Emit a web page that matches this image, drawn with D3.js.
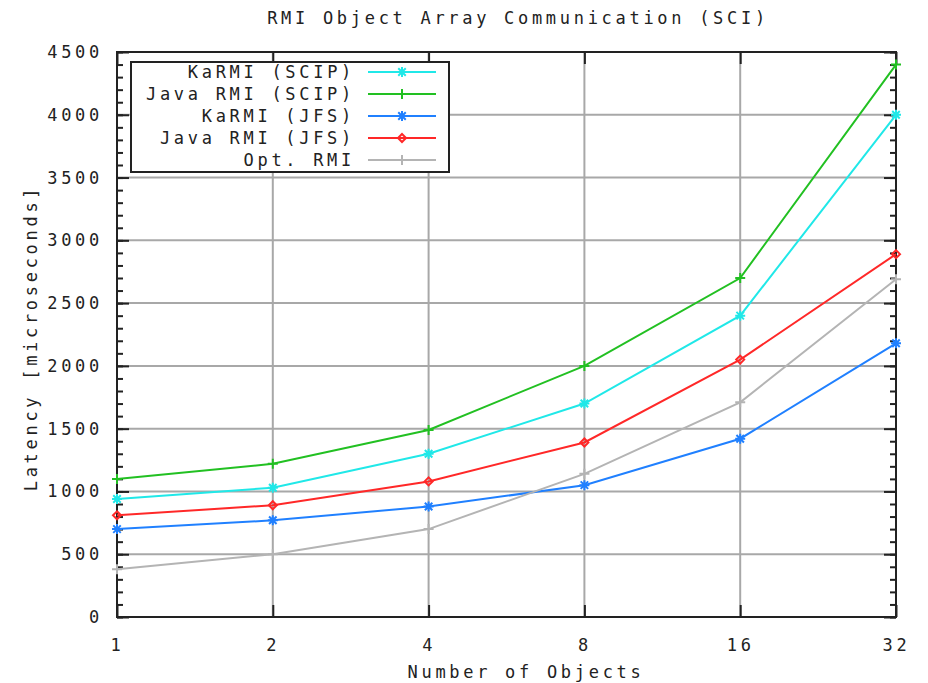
<!DOCTYPE html>
<html>
<head>
<meta charset="utf-8">
<script src="https://cdn.jsdelivr.net/npm/d3@7"></script>
<style>
  body { margin: 0; background: #fff; }
  text { font-family: "DejaVu Sans Mono", monospace; font-size: 17px; letter-spacing: 3.7px; fill: #222; }
</style>
</head>
<body>
<div id="chart"></div>
<script>

// data
const objects = [1, 2, 4, 8, 16, 32];
const karmiScip = [940, 1030, 1300, 1700, 2400, 4000];
const javaScip = [1100, 1220, 1490, 2000, 2700, 4400];
const karmiJfs = [700, 770, 880, 1050, 1420, 2180];
const javaJfs = [810, 890, 1080, 1390, 2050, 2890];
const optRmi = [380, 500, 700, 1140, 1710, 2690];
const yTicks = [0, 500, 1000, 1500, 2000, 2500, 3000, 3500, 4000, 4500];

const seriesList = [
    { name: "KaRMI (SCIP)", values: karmiScip, color: "#20e8e8", marker: "star" },
    { name: "Java RMI (SCIP)", values: javaScip, color: "#22c022", marker: "plus" },
    { name: "KaRMI (JFS)", values: karmiJfs, color: "#2080ff", marker: "star" },
    { name: "Java RMI (JFS)", values: javaJfs, color: "#ff2828", marker: "diamond" },
    { name: "Opt. RMI", values: optRmi, color: "#b4b4b4", marker: "plus" }
];

const width = 928, height = 683;
const margin = {top: 52, right: 32, bottom: 66, left: 117};
const w = width - margin.left - margin.right;
const h = height - margin.top - margin.bottom;

const svg = d3.select("#chart").append("svg")
    .attr("width", width)
    .attr("height", height);

const g = svg.append("g")
    .attr("transform", "translate(" + margin.left + "," + margin.top + ")");

const x_scale = d3.scaleLog().base(2).domain([1, 32]).range([0, w]);
const y_scale = d3.scaleLinear().domain([0, 4500]).range([h, 0]);

// grid
g.append("g").selectAll("line")
    .data(yTicks.slice(1, -1))
    .enter().append("line")
    .attr("x1", 0).attr("x2", w)
    .attr("y1", d => y_scale(d)).attr("y2", d => y_scale(d))
    .attr("stroke", "#a8a8a8").attr("stroke-width", 2);

g.append("g").selectAll("line")
    .data(objects.slice(1, -1))
    .enter().append("line")
    .attr("y1", 0).attr("y2", h)
    .attr("x1", d => x_scale(d)).attr("x2", d => x_scale(d))
    .attr("stroke", "#a8a8a8").attr("stroke-width", 2);

// axes (gnuplot style, ticks inward and mirrored)
const minor = d3.range(0, 4501, 100);
const axisStyle = function(sel) {
    sel.select(".domain").remove();
    sel.selectAll(".tick line").attr("stroke", "#222").attr("stroke-width", 2);
};

g.append("g").call(d3.axisLeft(y_scale).tickValues(minor).tickSize(-6).tickFormat("")).call(axisStyle);
g.append("g").call(d3.axisLeft(y_scale).tickValues(yTicks).tickSize(-12).tickPadding(14).tickFormat(d3.format("d")))
    .call(axisStyle);
g.append("g").attr("transform", "translate(" + w + ",0)")
    .call(d3.axisRight(y_scale).tickValues(minor).tickSize(-6).tickFormat("")).call(axisStyle);
g.append("g").attr("transform", "translate(" + w + ",0)")
    .call(d3.axisRight(y_scale).tickValues(yTicks).tickSize(-12).tickFormat("")).call(axisStyle);

g.append("g").attr("transform", "translate(0," + h + ")")
    .call(d3.axisBottom(x_scale).tickValues(objects).tickSize(-12).tickPadding(22).tickFormat(d => d.toString()))
    .call(axisStyle);
g.append("g")
    .call(d3.axisTop(x_scale).tickValues(objects).tickSize(-12).tickFormat(""))
    .call(axisStyle);

g.selectAll(".tick text").attr("fill", "#222")
    .style("font-family", "DejaVu Sans Mono").style("font-size", "17px").style("letter-spacing", "3.7px");

// border
g.append("rect")
    .attr("width", w).attr("height", h)
    .attr("fill", "none").attr("stroke", "#222").attr("stroke-width", 2);

// markers
const markerPath = function(type, s) {
    if (type == "plus") {
        return "M" + (-s) + ",0H" + s + "M0," + (-s) + "V" + s;
    }
    if (type == "diamond") {
        return "M0," + (-s) + "L" + s + ",0L0," + s + "L" + (-s) + ",0Z";
    }
    const d = s * 0.75;
    return "M" + (-s) + ",0H" + s + "M0," + (-s) + "V" + s +
        "M" + (-d) + "," + (-d) + "L" + d + "," + d + "M" + (-d) + "," + d + "L" + d + "," + (-d);
};

const line = d3.line()
    .x((d, i) => x_scale(objects[i]))
    .y(d => y_scale(d));

seriesList.forEach(function(s) {
    g.append("path")
        .datum(s.values)
        .attr("fill", "none")
        .attr("stroke", s.color)
        .attr("stroke-width", 2)
        .attr("d", line);

    g.append("g").selectAll("path")
        .data(s.values)
        .enter().append("path")
        .attr("transform", (d, i) => "translate(" + x_scale(objects[i]) + "," + y_scale(d) + ")")
        .attr("d", markerPath(s.marker, s.marker == "diamond" ? 4 : 5))
        .attr("fill", "none")
        .attr("stroke", s.color)
        .attr("stroke-width", 2);
});

// legend
const legend = svg.append("g").attr("transform", "translate(131,62)");
legend.append("rect")
    .attr("width", 318).attr("height", 110)
    .attr("fill", "#fff").attr("stroke", "#222").attr("stroke-width", 2);

const rows = legend.selectAll(".row")
    .data(seriesList)
    .enter().append("g")
    .attr("transform", (d, i) => "translate(0," + (10 + i * 22) + ")");

rows.append("text")
    .attr("x", 224).attr("y", 6)
    .attr("text-anchor", "end")
    .text(d => d.name);

rows.append("line")
    .attr("x1", 237).attr("x2", 305)
    .attr("stroke", d => d.color).attr("stroke-width", 2);

rows.append("path")
    .attr("transform", "translate(271,0)")
    .attr("d", d => markerPath(d.marker, d.marker == "diamond" ? 4 : 5))
    .attr("fill", "none")
    .attr("stroke", d => d.color).attr("stroke-width", 2);

// labels
svg.append("text")
    .attr("x", 518).attr("y", 24)
    .attr("text-anchor", "middle")
    .text("RMI Object Array Communication (SCI)");

svg.append("text")
    .attr("x", 526).attr("y", 678)
    .attr("text-anchor", "middle")
    .text("Number of Objects");

svg.append("text")
    .attr("transform", "translate(37,338) rotate(-90)")
    .attr("text-anchor", "middle")
    .text("Latency [microseconds]");

</script>
</body>
</html>
